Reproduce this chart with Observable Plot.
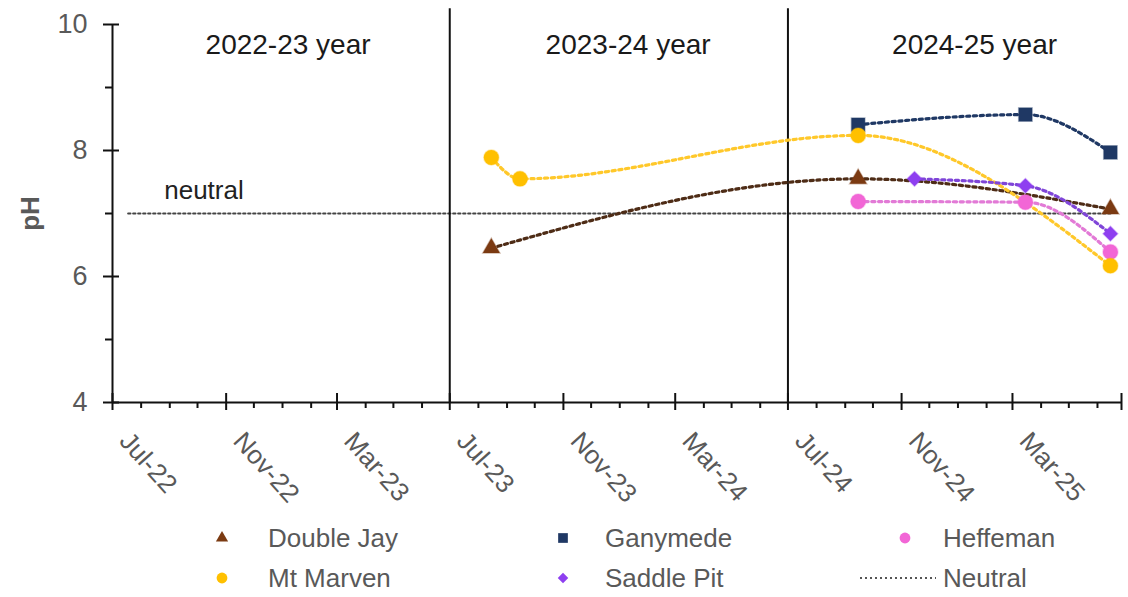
<!DOCTYPE html>
<html><head><meta charset="utf-8">
<script src="https://cdn.jsdelivr.net/npm/d3@7"></script>
<script src="https://cdn.jsdelivr.net/npm/@observablehq/plot@0.6"></script>
<style>
body{margin:0;background:#fff;font-family:"Liberation Sans",Arial,sans-serif;}
#chart{width:1128px;height:510px;}
#legend{position:relative;width:1128px;height:87px;}
.lg-mark{position:absolute;}
.lg-text{position:absolute;font-size:26px;color:#595959;line-height:30px;white-space:nowrap;}
</style></head>
<body>
<div id="chart"></div>
<div id="legend"></div>
<script>
// ---- data ----
const seriesNames = ["Double Jay", "Ganymede", "Heffeman", "Mt Marven", "Saddle Pit"];
const markerColors = ["#7b3a12", "#1f3864", "#f266d6", "#ffc000", "#8e3ff0"];
const lineColors   = ["#4e2c16", "#1f3864", "#e27ad6", "#ffc82a", "#7f45d8"];
const markerSymbols = ["triangle", "square", "circle", "circle", "diamond2"];
const markerRadii = [6.3, 7.6, 7.5, 7.5, 6.6];

const doubleJayDates = ["2023-08-15", "2024-09-15", "2025-06-15"];
const doubleJayPH    = [6.45, 7.55, 7.07];
const ganymedeDates  = ["2024-09-15", "2025-03-15", "2025-06-15"];
const ganymedePH     = [8.41, 8.57, 7.97];
const heffemanDates  = ["2024-09-15", "2025-03-15", "2025-06-15"];
const heffemanPH     = [7.19, 7.18, 6.39];
const mtMarvenDates  = ["2023-08-15", "2023-09-15", "2024-09-15", "2025-06-15"];
const mtMarvenPH     = [7.89, 7.55, 8.24, 6.17];
const saddlePitDates = ["2024-11-15", "2025-03-15", "2025-06-15"];
const saddlePitPH    = [7.55, 7.44, 6.68];

const neutralDates = ["2022-07-18", "2025-06-15"];
const neutralPH = [7, 7];
const neutralLabel = "neutral";
const neutralLabelDate = "2022-08-26";
const neutralLabelPH = 7.37;

const yearBoundaryDates = ["2023-07-01", "2024-07-01"];
const yearLabels = ["2022-23 year", "2023-24 year", "2024-25 year"];
const yearLabelDates = ["2023-01-07", "2024-01-10", "2025-01-19"];
const yearLabelPH = 9.67;

const xDomain = ["2022-07-01", "2025-06-27"];
const yDomain = [4, 10];
const yMajorTicks = [4, 6, 8, 10];
const yMinorTicks = [5, 7, 9];
const xMajorTickDates = ["2022-07-01","2022-11-01","2023-03-01","2023-07-01","2023-11-01","2024-03-01","2024-07-01","2024-11-01","2025-03-01"];
const yAxisLabel = "pH";
const legendNeutral = "Neutral";

// ---- build ----
const P = s => new Date(s + "T00:00:00Z");
const seriesDates = [doubleJayDates, ganymedeDates, heffemanDates, mtMarvenDates, saddlePitDates];
const seriesPH = [doubleJayPH, ganymedePH, heffemanPH, mtMarvenPH, saddlePitPH];
const seriesRows = seriesNames.map((name, i) =>
  seriesDates[i].map((d, j) => ({series: name, date: P(d), ph: seriesPH[i][j]})));

const xStart = P(xDomain[0]), xEnd = P(xDomain[1]);
const majors = xMajorTickDates.map(P);
const majorSet = new Set(majors.map(d => +d));
const minors = d3.utcMonth.range(d3.utcMonth.offset(xStart, 1), xEnd).filter(d => !majorSet.has(+d));
const neutralRows = neutralDates.map((d, i) => ({date: P(d), ph: neutralPH[i]}));

const marks = [];
// neutral line
marks.push(Plot.line(neutralRows, {x: "date", y: "ph", stroke: "#444", strokeWidth: 2.2, strokeDasharray: "2.2,2.8"}));
marks.push(Plot.text([neutralLabel], {x: () => P(neutralLabelDate), y: () => neutralLabelPH, text: d => d, textAnchor: "start", fontSize: 26, fill: "#222"}));
// year boundaries & labels
marks.push(Plot.ruleX(yearBoundaryDates.map(P), {x: d => d, y1: yDomain[0], y2: 10.25, stroke: "#111", strokeWidth: 2}));
marks.push(Plot.text(yearLabels, {x: (d, i) => P(yearLabelDates[i]), y: () => yearLabelPH, text: d => d, fontSize: 28, fill: "#1a1a1a"}));
// series lines
seriesRows.forEach((rows, i) => {
  marks.push(Plot.line(rows, {x: "date", y: "ph", stroke: lineColors[i], strokeWidth: 3.2, strokeDasharray: "3.2,3.6", curve: "monotone-x"}));
});
// markers
seriesRows.forEach((rows, i) => {
  marks.push(Plot.dot(rows, {x: "date", y: "ph", symbol: markerSymbols[i], fill: markerColors[i], r: markerRadii[i], stroke: markerColors[i], strokeOpacity: 0.35, strokeWidth: 1.5}));
});
// axes lines
marks.push(Plot.ruleY([yDomain[0]], {stroke: "#111", strokeWidth: 2}));
marks.push(Plot.ruleX([xStart], {y1: yDomain[0], y2: yDomain[1], stroke: "#111", strokeWidth: 2}));
// x ticks
marks.push(Plot.ruleX(majors.concat([xEnd]), {x: d => d, y1: yDomain[0], y2: yDomain[0], insetTop: -9, insetBottom: -8, stroke: "#111", strokeWidth: 2}));
marks.push(Plot.ruleX(minors, {x: d => d, y1: yDomain[0], y2: yDomain[0], insetTop: 0, insetBottom: -6, stroke: "#111", strokeWidth: 2}));
// y ticks
marks.push(Plot.ruleY(yMajorTicks, {y: d => d, x1: xStart, x2: xStart, insetLeft: -9, insetRight: -7, stroke: "#111", strokeWidth: 2}));
marks.push(Plot.ruleY(yMinorTicks, {y: d => d, x1: xStart, x2: xStart, insetLeft: -7, insetRight: 0, stroke: "#111", strokeWidth: 2}));
// axes labels
marks.push(Plot.axisX({ticks: majors, tickFormat: d3.utcFormat("%b-%y"), tickSize: 0, tickPadding: 34, tickRotate: 48, dx: 12, fontSize: 26, color: "#595959", label: null}));
marks.push(Plot.axisY({ticks: yMajorTicks, tickFormat: d3.format("d"), tickSize: 0, tickPadding: 25, fontSize: 27, color: "#595959", label: yAxisLabel, labelAnchor: "center", labelOffset: 92}));

const chart = Plot.plot({
  width: 1128,
  height: 510,
  marginLeft: 112,
  marginRight: 7,
  marginTop: 24,
  marginBottom: 108,
  x: {type: "utc", domain: [xStart, xEnd]},
  y: {domain: yDomain},
  style: {fontFamily: '"Liberation Sans", Arial, sans-serif', background: "#fff", overflow: "visible"},
  marks
});
document.getElementById("chart").appendChild(chart);
// y-axis title: bold, no arrow
chart.querySelectorAll("text").forEach(t => {
  if (t.textContent.trim().replace(/[^\w]/g, "") === yAxisLabel) {
    t.textContent = yAxisLabel;
    t.style.fontWeight = "bold"; t.style.fontSize = "26px"; t.setAttribute("fill", "#595959");
  }
});

// ---- legend ----
const legend = d3.select("#legend");
const colMarkX = [222, 563, 905];
const colTextX = [268, 605, 943];
const rowY = [28, 68];
const legendItems = seriesNames.map((name, i) => ({name, i}));
legendItems.forEach((it, k) => {
  const col = k % 3, row = Math.floor(k / 3);
  const s = 22;
  const svg = legend.append("svg").attr("class", "lg-mark").attr("width", s).attr("height", s)
    .style("left", (colMarkX[col] - s / 2) + "px").style("top", (rowY[row] - s / 2) + "px");
  const sym = {triangle: d3.symbolTriangle, square: d3.symbolSquare, circle: d3.symbolCircle, diamond2: d3.symbolDiamond2}[markerSymbols[it.i]];
  const r = markerRadii[it.i] * 0.72;
  svg.append("path").attr("transform", `translate(${s/2},${s/2})`).attr("d", d3.symbol(sym, r * r * Math.PI)()).attr("fill", markerColors[it.i]);
  legend.append("div").attr("class", "lg-text").style("left", colTextX[col] + "px").style("top", (rowY[row] - 15) + "px").text(it.name);
});
// neutral legend entry
{
  const svg = legend.append("svg").attr("class", "lg-mark").attr("width", 80).attr("height", 10)
    .style("left", "858px").style("top", (rowY[1] - 5) + "px");
  svg.append("line").attr("x1", 2).attr("x2", 78).attr("y1", 5).attr("y2", 5).attr("stroke", "#555").attr("stroke-width", 2).attr("stroke-dasharray", "2,3");
  legend.append("div").attr("class", "lg-text").style("left", colTextX[2] + "px").style("top", (rowY[1] - 15) + "px").text(legendNeutral);
}
</script>
</body></html>
